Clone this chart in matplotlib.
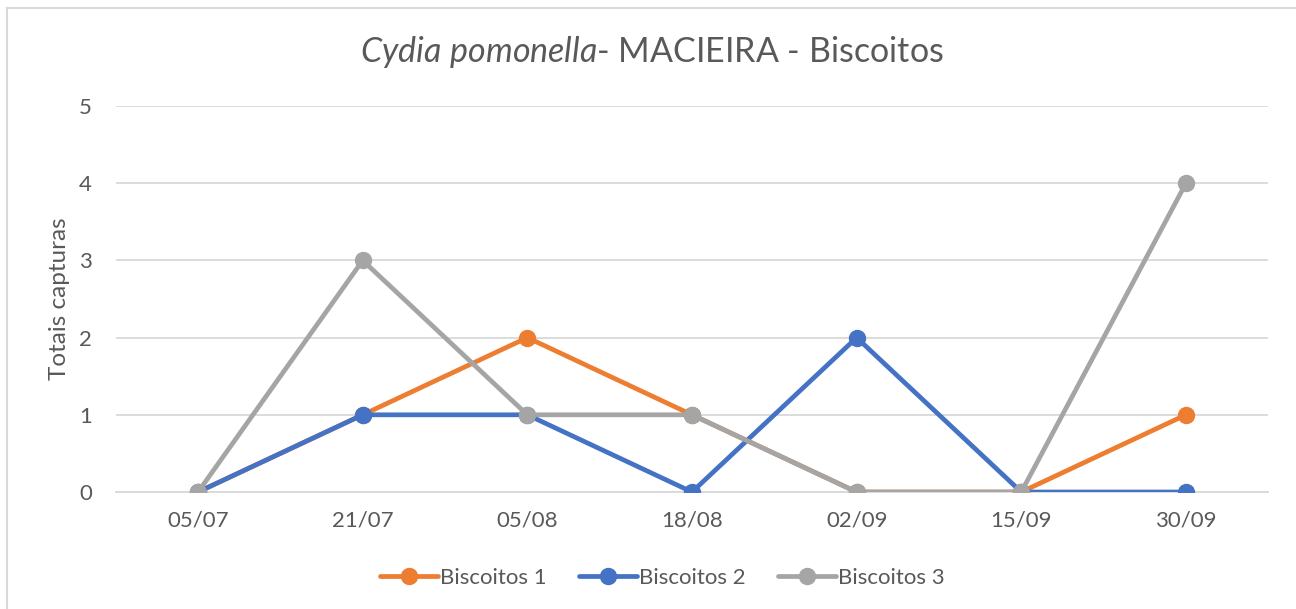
"""Cydia pomonella captures - MACIEIRA - Biscoitos."""

import matplotlib
matplotlib.use("Agg")
import matplotlib.pyplot as plt
from matplotlib.lines import Line2D

plt.rcParams['font.family'] = ['Lato', 'DejaVu Sans']
plt.rcParams['mathtext.fontset'] = 'custom'
plt.rcParams['mathtext.rm'] = 'Lato'
plt.rcParams['mathtext.it'] = 'Lato:italic'

dates = ['05/07', '21/07', '05/08', '18/08', '02/09', '15/09', '30/09']
biscoitos_1 = [0, 1, 2, 1, 0, 0, 1]
biscoitos_2 = [0, 1, 1, 0, 2, 0, 0]
biscoitos_3 = [0, 3, 1, 1, 0, 0, 4]

series = [
    ('Biscoitos 1', biscoitos_1, '#ED7D31'),
    ('Biscoitos 2', biscoitos_2, '#4472C4'),
    ('Biscoitos 3', biscoitos_3, '#A5A5A5'),
]

text_col = '#595959'
grid_col = '#D9D9D9'

fig = plt.figure(figsize=(12.96, 6.09), dpi=100)
ax = fig.add_axes([0.0893, 0.1921, 0.8893, 0.6338])

x = list(range(len(dates)))
for i, (name, vals, col) in enumerate(series):
    ax.plot(x, vals, color=col, lw=3.4, marker='o', ms=11.5,
            label=name, zorder=3 + i, solid_capstyle='round')

ax.set_xlim(-0.5, len(dates) - 0.5)
ax.set_ylim(0, 5)
ax.set_yticks(range(6))
ax.set_xticks(x)
ax.set_xticklabels(dates)
ax.grid(axis='y', color=grid_col, lw=1.3)
ax.set_axisbelow(True)
for s in ['top', 'right', 'left']:
    ax.spines[s].set_visible(False)
ax.spines['bottom'].set_color(grid_col)
ax.spines['bottom'].set_linewidth(1.3)
ax.tick_params(axis='both', length=0, labelsize=16, colors=text_col)
ax.tick_params(axis='y', pad=17)
ax.tick_params(axis='x', pad=13)
ax.set_ylabel('Totais capturas', fontsize=17.5, color=text_col, labelpad=7)

fig.text(0.503, 0.915, r'$\mathit{Cydia\ pomonella}$- MACIEIRA - Biscoitos',
         ha='center', va='center', fontsize=24.5, color=text_col)

fig.legend(loc='center', bbox_to_anchor=(0.511, 0.051), ncol=3, frameon=False,
           fontsize=16, labelcolor=text_col, handlelength=2.6,
           handletextpad=0.1, columnspacing=1.45)

# chart area border (left and top edges visible)
fig.add_artist(Line2D([7 / 1296, 7 / 1296], [0, 1 - 8 / 609],
                      color=grid_col, lw=1.5, transform=fig.transFigure))
fig.add_artist(Line2D([7 / 1296, 1], [1 - 8 / 609, 1 - 8 / 609],
                      color=grid_col, lw=1.5, transform=fig.transFigure))

fig.savefig('out.png', dpi=100)
